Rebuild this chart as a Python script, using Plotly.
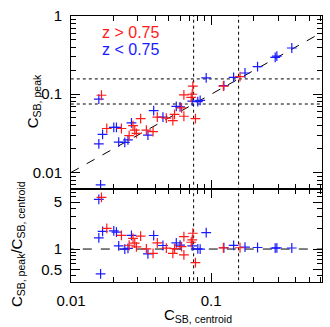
import plotly.graph_objects as go

# ---- data ----
x_red = [0.0165, 0.0180, 0.0229, 0.0260, 0.0277, 0.0285, 0.0293, 0.0314, 0.0345, 0.0385,
         0.0413, 0.0479, 0.0533, 0.0548, 0.0639, 0.0615, 0.0639, 0.0721, 0.0733, 0.0740,
         0.0773, 0.1223, 0.1607]
y_red = [0.0970, 0.0365, 0.0365, 0.0296, 0.0398, 0.0348, 0.0316, 0.0487, 0.0348, 0.0332,
         0.0511, 0.0494, 0.0460, 0.0554, 0.0523, 0.0668, 0.0980, 0.0910, 0.1000, 0.1270,
         0.0487, 0.1270, 0.1680]
x_blue = [0.0158, 0.01626, 0.0158, 0.0168, 0.0202, 0.0211, 0.0219, 0.0242, 0.0255, 0.0270,
          0.0354, 0.0389, 0.0453, 0.0564, 0.0600, 0.0733, 0.0803, 0.0835, 0.0922, 0.1233,
          0.1447, 0.1744, 0.2144, 0.2864, 0.2944, 0.3763]
y_blue = [0.0866, 0.00694, 0.0232, 0.0307, 0.0376, 0.0376, 0.0244, 0.0242, 0.0261, 0.0430,
          0.0301, 0.0618, 0.0511, 0.0698, 0.0688, 0.0818, 0.0806, 0.0834, 0.1617, 0.1288,
          0.1645, 0.1867, 0.2259, 0.2960, 0.3073, 0.3900]
cuts = [0.075, 0.157]
one_to_one = [0.01, 0.62]

r_red = [y / x for x, y in zip(x_red, y_red)]
r_blue = [y / x for x, y in zip(x_blue, y_blue)]

RED = "#ff1a1a"
BLUE = "#1a1aff"
FONT = "Arial"

fig = go.Figure()

def marker(c):
    return dict(symbol="cross-thin", size=7, line=dict(color=c, width=1.2), color=c)

fig.add_trace(go.Scatter(x=one_to_one, y=one_to_one, mode="lines",
                         line=dict(color="black", dash="dash", width=1), xaxis="x", yaxis="y"))
for c in cuts:
    fig.add_trace(go.Scatter(x=[0.005, 1], y=[c, c], mode="lines",
                             line=dict(color="black", dash="dot", width=1), xaxis="x", yaxis="y"))
    fig.add_trace(go.Scatter(x=[c, c], y=[0.001, 2], mode="lines",
                             line=dict(color="black", dash="dot", width=1), xaxis="x", yaxis="y"))
    fig.add_trace(go.Scatter(x=[c, c], y=[0.1, 10], mode="lines",
                             line=dict(color="black", dash="dot", width=1), xaxis="x2", yaxis="y2"))
fig.add_trace(go.Scatter(x=[0.005, 1], y=[1, 1], mode="lines",
                         line=dict(color="black", dash="dash", width=1), xaxis="x2", yaxis="y2"))

fig.add_trace(go.Scatter(x=x_blue, y=y_blue, mode="markers", marker=marker(BLUE), xaxis="x", yaxis="y"))
fig.add_trace(go.Scatter(x=x_red, y=y_red, mode="markers", marker=marker(RED), xaxis="x", yaxis="y"))
fig.add_trace(go.Scatter(x=x_blue, y=r_blue, mode="markers", marker=marker(BLUE), xaxis="x2", yaxis="y2"))
fig.add_trace(go.Scatter(x=x_red, y=r_red, mode="markers", marker=marker(RED), xaxis="x2", yaxis="y2"))

xminor = [0.02, 0.03, 0.04, 0.05, 0.06, 0.07, 0.08, 0.09, 0.2, 0.3, 0.4, 0.5, 0.6]
yminor = [0.007, 0.008, 0.009] + [d * 0.01 for d in range(2, 10)] + [d * 0.1 for d in range(2, 10)]
rminor = [0.4, 0.6, 0.7, 0.8, 0.9, 2, 3, 4, 6, 7]

axcommon = dict(type="log", showgrid=False, zeroline=False, showline=True, linecolor="black",
                linewidth=1, mirror="allticks", ticks="inside", ticklen=9, tickcolor="black",
                tickwidth=1, tickfont=dict(family=FONT, size=15, color="black"),
                ticklabelstandoff=5)

def mnr(vals):
    return dict(tickvals=vals, ticks="inside", ticklen=5, tickcolor="black", showgrid=False)

dom = 95 / 272
fig.update_layout(
    width=330, height=327, margin=dict(l=71, r=7, t=10, b=45),
    paper_bgcolor="white", plot_bgcolor="white", showlegend=False,
    xaxis=dict(axcommon, domain=[0, 1], anchor="y", range=[-2, -0.209],
               tickvals=[0.01, 0.1], showticklabels=False, minor=mnr(xminor)),
    yaxis=dict(axcommon, domain=[dom, 1], anchor="x", range=[-2.2125, 0],
               tickvals=[0.01, 0.1, 1], ticktext=["0.01", "0.1", "1"], minor=mnr(yminor)),
    xaxis2=dict(axcommon, domain=[0, 1], anchor="y2", range=[-2, -0.209],
                tickvals=[0.01, 0.1], ticktext=["0.01", "0.1"], minor=mnr(xminor)),
    yaxis2=dict(axcommon, domain=[0, dom], anchor="x2", range=[-0.49, 0.891],
                tickvals=[0.5, 1, 5], ticktext=["0.5", "1", "5"], minor=mnr(rminor)),
)

def px_x(p):
    return (p - 71) / 252

def px_y(p):
    return (282 - p) / 272

ann = [
    dict(text="z > 0.75", x=px_x(100), y=px_y(27), xanchor="left", yanchor="middle",
         font=dict(family=FONT, size=16, color=RED)),
    dict(text="z < 0.75", x=px_x(100), y=px_y(44), xanchor="left", yanchor="middle",
         font=dict(family=FONT, size=16, color=BLUE)),
    dict(text="C<sub>SB, peak</sub>", x=px_x(33), y=px_y(97), textangle=-90,
         xanchor="center", yanchor="middle", font=dict(family=FONT, size=15, color="black")),
    dict(text="C<sub>SB, peak</sub>/C<sub>SB, centroid</sub>", x=px_x(18), y=px_y(243), textangle=-90,
         xanchor="center", yanchor="middle", font=dict(family=FONT, size=15, color="black")),
    dict(text="C<sub>SB, centroid</sub>", x=px_x(199), y=px_y(316),
         xanchor="center", yanchor="middle", font=dict(family=FONT, size=15, color="black")),
]
for a in ann:
    a.update(xref="paper", yref="paper", showarrow=False)
fig.update_layout(annotations=ann)

fig.write_html("out.html")
